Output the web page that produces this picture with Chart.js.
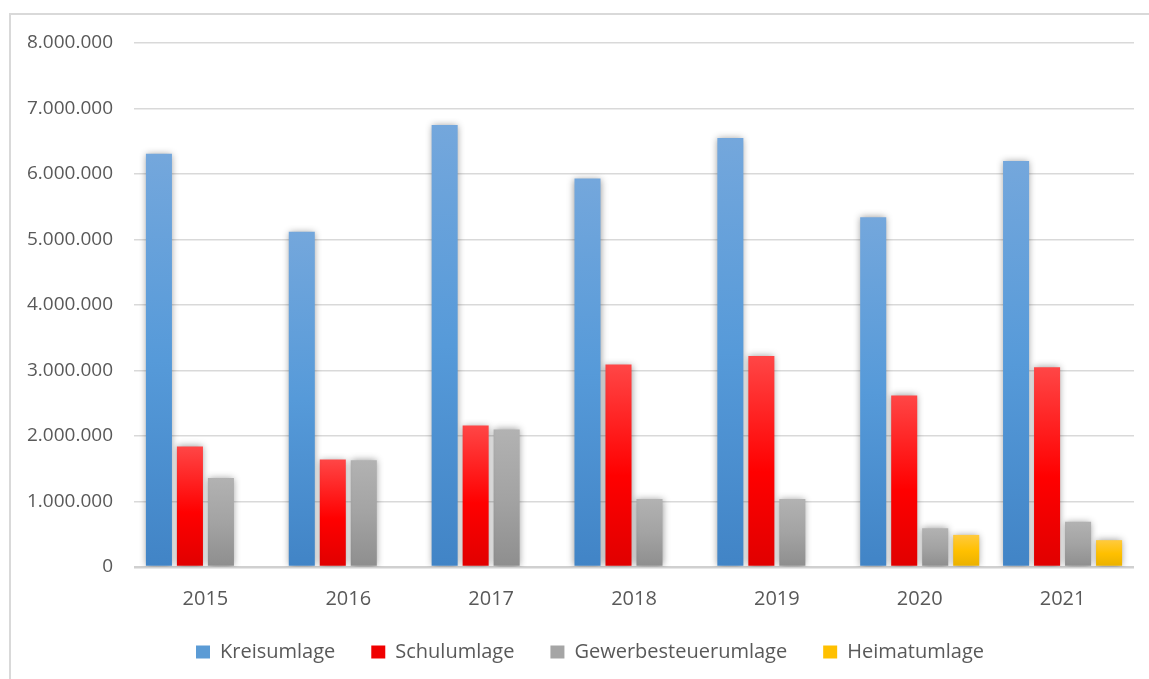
<!DOCTYPE html>
<html>
<head>
<meta charset="utf-8">
<script src="https://cdn.jsdelivr.net/npm/chart.js@4.4.1/dist/chart.umd.min.js"></script>
<style>
  html, body { margin: 0; padding: 0; background: #ffffff; overflow: hidden; }
  #wrap { position: relative; width: 1149px; height: 679px; }
  #frame {
    position: absolute; left: 9px; top: 13px; width: 1150px; height: 700px;
    border: 2px solid #d9d9d9; box-sizing: border-box; pointer-events: none;
  }
  canvas { position: absolute; left: 0; top: 0; }
</style>
</head>
<body>
<div id="wrap">
  <canvas id="chart" width="1149" height="679"></canvas>
  <div id="frame"></div>
</div>
<script>
// Data
const years = ["2015", "2016", "2017", "2018", "2019", "2020", "2021"];
const kreisumlage = [6310000, 5120000, 6750000, 5930000, 6550000, 5340000, 6200000];
const schulumlage = [1840000, 1640000, 2160000, 3090000, 3220000, 2620000, 3050000];
const gewerbesteuerumlage = [1360000, 1630000, 2100000, 1040000, 1040000, 590000, 690000];
const heimatumlage = [null, null, null, null, null, 490000, 410000];
const yTicks = [0, 1000000, 2000000, 3000000, 4000000, 5000000, 6000000, 7000000, 8000000];

// gradient stops per series (top -> bottom), plus a flat colour for the legend
const palettes = {
  blue: { stops: [[0, "#74a7dc"], [0.5, "#569ad9"], [1, "#4184c6"]], flat: "#5b9bd5" },
  red:  { stops: [[0, "#ff4646"], [0.55, "#ff0000"], [1, "#e00000"]], flat: "#f00000" },
  gray: { stops: [[0, "#b2b2b2"], [0.5, "#a3a3a3"], [1, "#8e8e8e"]], flat: "#a5a5a5" },
  gold: { stops: [[0, "#ffca3e"], [0.5, "#ffc000"], [1, "#e9b000"]], flat: "#ffc000" }
};

function barGradient(pal) {
  return function (c) {
    const chart = c.chart;
    if (!chart.chartArea || c.type !== "data" || c.raw == null) return pal.flat;
    const y = chart.scales.y;
    const top = y.getPixelForValue(c.raw);
    const base = y.getPixelForValue(0);
    if (!isFinite(top) || !isFinite(base) || top === base) return pal.flat;
    const g = chart.ctx.createLinearGradient(0, top, 0, base);
    pal.stops.forEach(s => g.addColorStop(s[0], s[1]));
    return g;
  };
}

function formatDe(v) {
  return String(Math.round(v)).replace(/\B(?=(\d{3})+(?!\d))/g, ".");
}

// soft shadow behind the bars
const barShadow = {
  id: "barShadow",
  beforeDatasetsDraw(chart) {
    const ctx = chart.ctx;
    ctx.save();
    ctx.shadowColor = "rgba(0,0,0,0.4)";
    ctx.shadowBlur = 7;
    ctx.shadowOffsetX = 0;
    ctx.shadowOffsetY = 0;
  },
  afterDatasetsDraw(chart) {
    chart.ctx.restore();
  }
};

// the legend in the original is centred a bit right of the canvas middle
const legendShift = {
  id: "legendShift",
  afterLayout(chart) {
    const lg = chart.legend;
    if (!lg) return;
    lg.left = 46;
    lg.width = lg.right - lg.left;
  }
};

const series = [
  { label: "Kreisumlage", data: kreisumlage, pal: palettes.blue },
  { label: "Schulumlage", data: schulumlage, pal: palettes.red },
  { label: "Gewerbesteuerumlage", data: gewerbesteuerumlage, pal: palettes.gray },
  { label: "Heimatumlage", data: heimatumlage, pal: palettes.gold }
];

const textColor = "#595959";

new Chart(document.getElementById("chart"), {
  type: "bar",
  data: {
    labels: years,
    datasets: series.map(s => ({
      label: s.label,
      data: s.data,
      backgroundColor: barGradient(s.pal),
      borderWidth: 0,
      categoryPercentage: 0.868,
      barPercentage: 0.84
    }))
  },
  options: {
    responsive: false,
    animation: false,
    devicePixelRatio: 1,
    layout: { padding: { left: 20, right: 15, top: 43, bottom: 7 } },
    plugins: {
      tooltip: { enabled: false },
      legend: {
        position: "bottom",
        labels: {
          color: textColor,
          font: { family: "'Open Sans'", size: 20 },
          boxWidth: 14,
          boxHeight: 13,
          padding: 36,
          generateLabels(chart) {
            return chart.data.datasets.map((ds, i) => ({
              text: ds.label,
              fillStyle: series[i].pal.flat,
              strokeStyle: series[i].pal.flat,
              lineWidth: 0,
              fontColor: textColor,
              hidden: false,
              datasetIndex: i
            }));
          }
        }
      }
    },
    scales: {
      x: {
        afterFit(scale) { scale.height = 39; },
        grid: { display: false },
        border: { display: false },
        ticks: {
          color: textColor,
          font: { family: "'Open Sans'", size: 20 },
          padding: 12
        }
      },
      y: {
        min: 0,
        max: 8000000,
        afterFit(scale) { scale.width = 114; },
        afterBuildTicks(scale) { scale.ticks = yTicks.map(v => ({ value: v })); },
        border: { display: false },
        grid: {
          drawTicks: false,
          color: c => c.tick && c.tick.value === 0 ? "#d0d0d0" : "#d9d9d9",
          lineWidth: c => c.tick && c.tick.value === 0 ? 2.5 : 1.5
        },
        ticks: {
          color: textColor,
          font: { family: "'Open Sans'", size: 19 },
          padding: 21,
          callback: v => formatDe(v)
        }
      }
    }
  },
  plugins: [barShadow, legendShift]
});
</script>
</body>
</html>
